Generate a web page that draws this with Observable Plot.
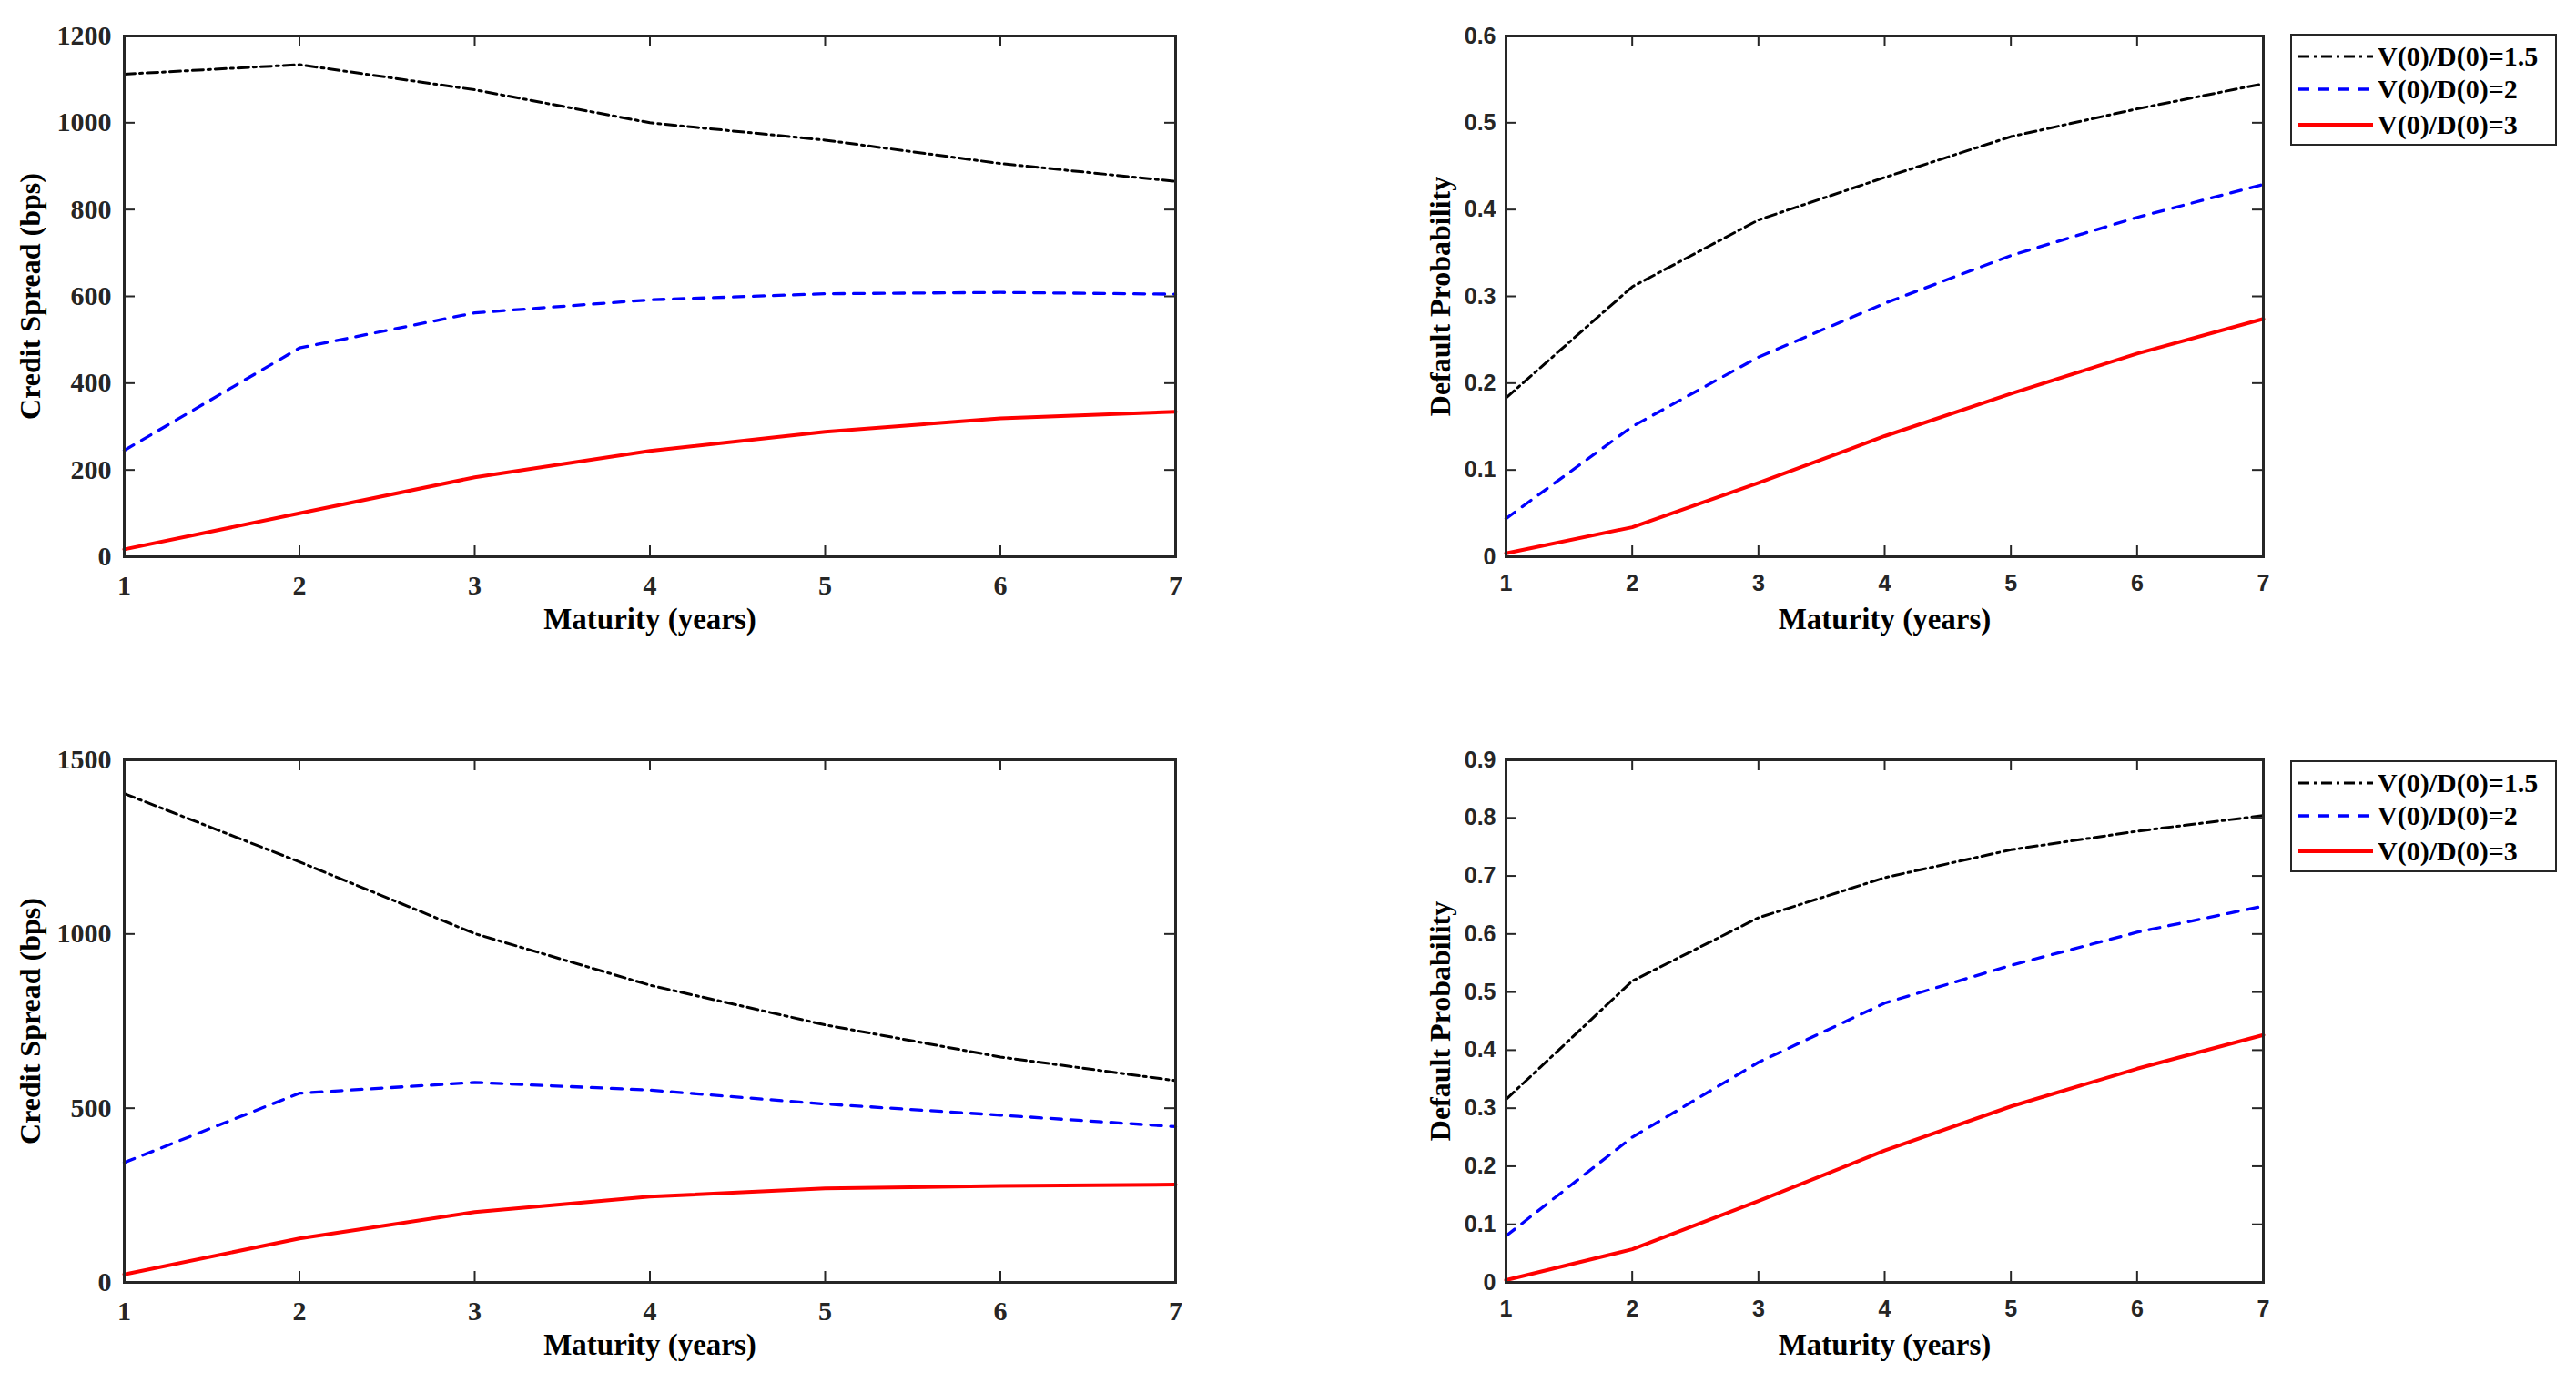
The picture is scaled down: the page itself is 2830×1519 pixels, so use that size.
<!DOCTYPE html>
<html>
<head>
<meta charset="utf-8">
<script src="https://cdn.jsdelivr.net/npm/d3@7"></script>
<script src="https://cdn.jsdelivr.net/npm/@observablehq/plot@0.6"></script>
<style>
  body { margin: 0; background: #fff; }
  #fig { position: relative; width: 2830px; height: 1519px; overflow: hidden; }
  .panel { position: absolute; }
  .legend {
    position: absolute; box-sizing: border-box; width: 293px; height: 123px;
    border: 2px solid #262626; background: #fff;
    font-family: "Liberation Serif", "Times New Roman", serif; font-weight: bold; font-size: 30px;
  }
  .legend .row { position: absolute; left: 6px; height: 36px; display: flex; align-items: center; }
  .legend svg { margin-right: 4px; }
</style>
</head>
<body>
<div id="fig"></div>
<script>
// values
const maturity = [1, 2, 3, 4, 5, 6, 7];
const seriesNames = ["V(0)/D(0)=1.5", "V(0)/D(0)=2", "V(0)/D(0)=3"];

// top row
const spreadTop15 = [1112, 1134, 1076, 1000, 960, 906, 865];
const spreadTop2 = [245, 481, 562, 592, 606, 609, 605];
const spreadTop3 = [17, 100, 183, 244, 288, 319, 334];
const probTop15 = [0.183, 0.311, 0.388, 0.437, 0.484, 0.516, 0.545];
const probTop2 = [0.044, 0.150, 0.230, 0.292, 0.347, 0.391, 0.429];
const probTop3 = [0.004, 0.034, 0.085, 0.139, 0.188, 0.234, 0.274];

// bottom row
const spreadBot15 = [1403, 1207, 1001, 853, 739, 647, 579];
const spreadBot2 = [344, 543, 574, 552, 512, 480, 447];
const spreadBot3 = [23, 126, 202, 246, 270, 277, 281];
const probBot15 = [0.315, 0.519, 0.628, 0.697, 0.745, 0.777, 0.804];
const probBot2 = [0.080, 0.250, 0.379, 0.481, 0.546, 0.603, 0.648];
const probBot3 = [0.004, 0.057, 0.140, 0.227, 0.303, 0.368, 0.426];

const spreadTicksTop = [0, 200, 400, 600, 800, 1000, 1200];
const spreadTicksBot = [0, 500, 1000, 1500];
const probTicksTop = [0, 0.1, 0.2, 0.3, 0.4, 0.5, 0.6];
const probTicksBot = [0, 0.1, 0.2, 0.3, 0.4, 0.5, 0.6, 0.7, 0.8, 0.9];

const styles = [
  { stroke: "#000000", strokeWidth: 3, strokeDasharray: "12 5 3 5" },
  { stroke: "#0000ff", strokeWidth: 3.3, strokeDasharray: "12 10" },
  { stroke: "#ff0000", strokeWidth: 4, strokeDasharray: null }
];

const SERIF = "Liberation Serif, Times New Roman, serif";
const SANS = "Liberation Sans, Arial, sans-serif";
const AXIS = "#262626";

const fig = document.getElementById("fig");

function rows(values) {
  return maturity.map((m, i) => ({ maturity: m, value: values[i] }));
}

function panel({ left, top, width, height, margins, series, yTicks, yLabel, yLabelDx, tickFont, tickSize, xPad, yPad }) {
  const [mt, mr, mb, ml] = margins;
  const pw = width - ml - mr;
  const ph = height - mt - mb;
  const plot = Plot.plot({
    width, height,
    marginTop: mt, marginRight: mr, marginBottom: mb, marginLeft: ml,
    style: { fontFamily: tickFont, fontSize: tickSize + "px", fontWeight: "bold", color: AXIS, background: "transparent" },
    x: { domain: [1, 7] },
    y: { domain: [yTicks[0], yTicks[yTicks.length - 1]] },
    marks: [
      ...series.map((vals, k) => Plot.line(rows(vals), {
        x: "maturity", y: "value", ...styles[k], strokeLinejoin: "round"
      })),
      // inward ticks on all four sides
      Plot.tickX(maturity, { x: d => d, insetTop: ph - 12, stroke: AXIS, strokeWidth: 2 }),
      Plot.tickX(maturity, { x: d => d, insetBottom: ph - 12, stroke: AXIS, strokeWidth: 2 }),
      Plot.tickY(yTicks, { y: d => d, insetRight: pw - 12, stroke: AXIS, strokeWidth: 2 }),
      Plot.tickY(yTicks, { y: d => d, insetLeft: pw - 12, stroke: AXIS, strokeWidth: 2 }),
      Plot.axisX(maturity, { tickSize: 0, tickPadding: xPad, label: null, tickFormat: d => String(d),
        fontFamily: tickFont, fontSize: tickSize, fontWeight: "bold", fill: AXIS }),
      Plot.axisY(yTicks, { tickSize: 0, tickPadding: yPad, label: null, tickFormat: d => String(d),
        fontFamily: tickFont, fontSize: tickSize, fontWeight: "bold", fill: AXIS }),
      Plot.frame({ stroke: AXIS, strokeWidth: 3 }),
      Plot.text(["Maturity (years)"], { frameAnchor: "bottom", dy: 69, lineAnchor: "middle", textAnchor: "middle",
        fontFamily: SERIF, fontSize: 33, fontWeight: "bold", fill: "#000" }),
      Plot.text([yLabel], { frameAnchor: "left", dx: yLabelDx, rotate: -90, lineAnchor: "middle", textAnchor: "middle",
        fontFamily: SERIF, fontSize: 32, fontWeight: "bold", fill: "#000" })
    ]
  });
  plot.classList.add("panel");
  plot.style.left = left + "px";
  plot.style.top = top + "px";
  fig.appendChild(plot);
}

function legend(left, top) {
  const div = document.createElement("div");
  div.className = "legend";
  div.style.left = left + "px";
  div.style.top = top + "px";
  const centers = [25, 61, 100];
  seriesNames.forEach((name, k) => {
    const row = document.createElement("div");
    row.className = "row";
    row.style.top = (centers[k] - 18 - 2) + "px";
    const s = styles[k];
    row.innerHTML = `<svg width="84" height="12"><line x1="1" x2="83" y1="6" y2="6" stroke="${s.stroke}" stroke-width="${s.strokeWidth}" ${s.strokeDasharray ? `stroke-dasharray="${s.strokeDasharray}"` : ""}/></svg><span>${name}</span>`;
    div.appendChild(row);
  });
  fig.appendChild(div);
}

const topMargins = [39, 124, 149, 136];
const topMarginsR = [39, 344, 149, 239];
const botMargins = [74, 124, 111, 136];
const botMarginsR = [74, 344, 111, 239];

panel({ left: 0, top: 0, width: 1415, height: 760, margins: topMargins,
  series: [spreadTop15, spreadTop2, spreadTop3], yTicks: spreadTicksTop,
  yLabel: "Credit Spread (bps)", yLabelDx: -103, tickFont: SERIF, tickSize: 30, xPad: 20, yPad: 14 });
panel({ left: 1415, top: 0, width: 1415, height: 760, margins: topMarginsR,
  series: [probTop15, probTop2, probTop3], yTicks: probTicksTop,
  yLabel: "Default Probability", yLabelDx: -72, tickFont: SANS, tickSize: 25, xPad: 20, yPad: 11 });
panel({ left: 0, top: 760, width: 1415, height: 759, margins: botMargins,
  series: [spreadBot15, spreadBot2, spreadBot3], yTicks: spreadTicksBot,
  yLabel: "Credit Spread (bps)", yLabelDx: -103, tickFont: SERIF, tickSize: 30, xPad: 20, yPad: 14 });
panel({ left: 1415, top: 760, width: 1415, height: 759, margins: botMarginsR,
  series: [probBot15, probBot2, probBot3], yTicks: probTicksBot,
  yLabel: "Default Probability", yLabelDx: -72, tickFont: SANS, tickSize: 25, xPad: 20, yPad: 11 });

legend(2516, 37);
legend(2516, 835);
</script>
</body>
</html>
